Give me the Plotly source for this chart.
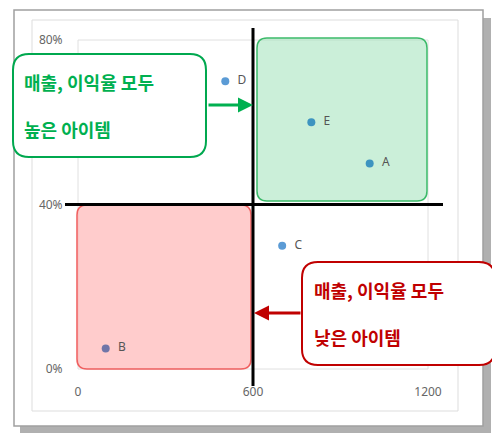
import plotly.graph_objects as go

names = ["A", "B", "C", "D", "E"]
sales = [1000, 95, 700, 505, 800]
margin = [0.50, 0.05, 0.30, 0.70, 0.60]
colors = ["#3d94c0", "#6f75a8", "#5b9bd5", "#5b9bd5", "#3d94c0"]

L, R, T, B = 70, 420, 32, 361
def px(x): return (x - L) / (R - L)
def py(y): return (B - y) / (B - T)

def rr(x0, y0, x1, y1, r):
    f = lambda x, y: f"{px(x):.4f},{py(y):.4f}"
    return (f"M {f(x0+r,y0)} L {f(x1-r,y0)} Q {f(x1,y0)} {f(x1,y0+r)} "
            f"L {f(x1,y1-r)} Q {f(x1,y1)} {f(x1-r,y1)} L {f(x0+r,y1)} "
            f"Q {f(x0,y1)} {f(x0,y1-r)} L {f(x0,y0+r)} Q {f(x0,y0)} {f(x0+r,y0)} Z")

fig = go.Figure(go.Scatter(
    x=sales, y=margin, mode="markers+text", text=["  " + n for n in names],
    textposition="middle right",
    marker=dict(size=8, color=colors), textfont=dict(size=12, color="#555"),
    cliponaxis=False, hoverinfo="skip"))

shapes = [
    dict(type="rect", xref="paper", yref="paper", x0=px(12), x1=px(483), y0=py(425), y1=py(10),
         fillcolor="#b0b0b0", line=dict(width=0), layer="below"),
    dict(type="rect", xref="paper", yref="paper", x0=px(6), x1=px(475), y0=py(418), y1=py(2),
         fillcolor="white", line=dict(color="#a0a0a0", width=1.5), layer="below"),
    dict(type="rect", xref="paper", yref="paper", x0=px(24), x1=px(450), y0=py(403), y1=py(12),
         fillcolor="white", line=dict(color="#dddddd", width=1), layer="below"),
    dict(type="rect", xref="paper", yref="paper", x0=0, x1=1, y0=0, y1=1,
         line=dict(color="#e0e0e0", width=1), layer="below"),
    dict(type="path", xref="paper", yref="paper", path=rr(249, 30, 419, 193, 10), layer="below",
         fillcolor="rgba(160,225,185,0.55)", line=dict(color="#3cba6a", width=1.5)),
    dict(type="path", xref="paper", yref="paper", path=rr(69, 197, 243, 361, 10), layer="below",
         fillcolor="rgba(255,170,170,0.6)", line=dict(color="#f06060", width=1.5)),
    dict(type="line", xref="x", yref="paper", x0=600, x1=600, y0=py(378), y1=py(20),
         line=dict(color="black", width=3)),
    dict(type="line", xref="paper", yref="y", x0=px(57), x1=px(435), y0=0.40, y1=0.40,
         line=dict(color="black", width=3)),
    dict(type="path", xref="paper", yref="paper", path=rr(5, 46, 198, 149, 16),
         fillcolor="white", line=dict(color="#00a84f", width=2)),
    dict(type="path", xref="paper", yref="paper", path=rr(294, 254, 487, 357, 16),
         fillcolor="white", line=dict(color="#c00000", width=2)),
]

annotations = [
    dict(xref="paper", yref="paper", x=px(14), y=py(97), xanchor="left", yanchor="middle",
         align="left", showarrow=False,
         text="<b>매출, 이익율 모두</b><br><span style='font-size:8px'> </span><br><b>높은 아이템</b>",
         font=dict(size=18, color="#00b050", family="Noto Sans CJK KR")),
    dict(xref="paper", yref="paper", x=px(304), y=py(305), xanchor="left", yanchor="middle",
         align="left", showarrow=False,
         text="<b>매출, 이익율 모두</b><br><span style='font-size:8px'> </span><br><b>낮은 아이템</b>",
         font=dict(size=18, color="#c00000", family="Noto Sans CJK KR")),
    dict(xref="paper", yref="paper", x=px(245), y=py(97),
         ax=-46, ay=0, showarrow=True, arrowhead=2, arrowsize=1, arrowwidth=3,
         arrowcolor="#00b050", text=""),
    dict(xref="paper", yref="paper", x=px(246), y=py(305),
         ax=48, ay=0, showarrow=True, arrowhead=2, arrowsize=1, arrowwidth=3,
         arrowcolor="#c00000", text=""),
]

fig.update_layout(
    width=500, height=439, margin=dict(l=L, r=500 - R, t=T, b=439 - B, autoexpand=False),
    paper_bgcolor="white", plot_bgcolor="white", showlegend=False,
    shapes=shapes, annotations=annotations,
    font=dict(family="Noto Sans", color="#666"),
    xaxis=dict(range=[0, 1200], tickvals=[0, 600, 1200], showgrid=False, zeroline=False,
               showline=False, tickfont=dict(size=12, color="#666"), automargin=False,
               ticks="outside", ticklen=12, tickcolor="rgba(0,0,0,0)"),
    yaxis=dict(range=[0, 0.8], tickvals=[0, 0.4, 0.8], tickformat=".0%", showgrid=False,
               zeroline=False, showline=False, tickfont=dict(size=12, color="#666"), automargin=False,
               ticks="outside", ticklen=12, tickcolor="rgba(0,0,0,0)"),
)
fig.write_html("out.html")
